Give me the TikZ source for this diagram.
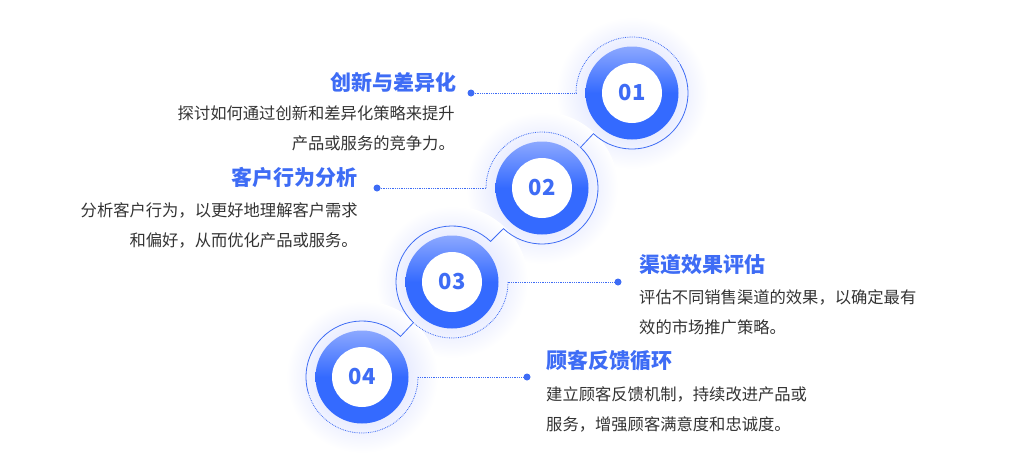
\documentclass[tikz,border=0pt]{standalone}
\usepackage{fontspec}
\setmainfont{Noto Sans CJK SC}
\usepackage{tikz}
\usetikzlibrary{calc}
\definecolor{mainblue}{RGB}{62,108,245}
\definecolor{lightblue}{RGB}{140,168,255}
\definecolor{deepblue}{RGB}{52,106,255}
\definecolor{glowblue}{RGB}{200,209,255}
\definecolor{textgray}{RGB}{51,51,51}

\begin{document}
\begin{tikzpicture}[x=1pt, y=1pt,
	disk/.style={circle, minimum size=93pt, inner sep=0pt, top color=lightblue, bottom color=deepblue, middle color=deepblue},
	hole/.style={circle, minimum size=60pt, inner sep=0pt, fill=white, text=mainblue, font=\fontsize{22}{26}\selectfont\bfseries},
	spot/.style={circle, minimum size=7pt, inner sep=0pt, fill=mainblue},
	title/.style={inner sep=0pt, text=mainblue, font=\fontsize{21}{25}\selectfont\bfseries},
	desc/.style={inner sep=0pt, text=textgray, font=\fontsize{16.3}{30}\selectfont},
	wire/.style={draw=mainblue, line width=0.8pt},
	dots/.style={wire, densely dotted}]
		\useasboundingbox (0,0) rectangle (1029,-461);
		\path (632,-93) coordinate (c1)
		(542,-188) coordinate (c2)
		(452,-282) coordinate (c3)
		(362,-377) coordinate (c4);

		\foreach \i in {1,...,4}
			\shade[inner color=glowblue, outer color=white] (c\i) circle (76pt);

		\path (c1) ++(180:56pt) coordinate (e1)
		(c2) ++(180:56pt) coordinate (e2)
		(c3) ++(0:56pt) coordinate (e3)
		(c4) ++(0:56pt) coordinate (e4);

		\draw[dots] (e1) arc[start angle=180, end angle=30, radius=56pt]
		(e2) arc[start angle=180, end angle=46.5, radius=56pt]
		(e3) arc[start angle=360, end angle=226.5, radius=56pt]
		(e4) arc[start angle=360, end angle=197, radius=56pt];

		\draw[wire] ($(c1)+(30:56pt)$) arc[start angle=30, end angle=-133.5, radius=56pt]
		-- ($(c2)+(46.5:56pt)$) arc[start angle=46.5, end angle=-133.5, radius=56pt]
		-- ($(c3)+(46.5:56pt)$) arc[start angle=46.5, end angle=226.5, radius=56pt]
		-- ($(c4)+(46.5:56pt)$) arc[start angle=46.5, end angle=197, radius=56pt];

		\foreach \i in {1,...,4}
			\path (c\i) node[disk] (b\i) {} node[hole] (n\i) {0\i};

		\path (471,-93) node[spot] (s1) {}
		(377,-188) node[spot] (s2) {}
		(618,-282) node[spot] (s3) {}
		(527,-377) node[spot] (s4) {};

		\draw[dots] (s1) -- (e1)
		(s2) -- (e2)
		(s3) -- (e3)
		(s4) -- (e4);

		\node[title, anchor=east] (t1) at (457,-82) {创新与差异化};
		\node[desc, anchor=east, align=right] (d1) at (455,-128) {探讨如何通过创新和差异化策略来提升\\产品或服务的竞争力。};
		\node[title, anchor=east] (t2) at (358,-177) {客户行为分析};
		\node[desc, anchor=east, align=right] (d2) at (358,-225) {分析客户行为，以更好地理解客户需求\\和偏好，从而优化产品或服务。};
		\node[title, anchor=west] (t3) at (639,-265) {渠道效果评估};
		\node[desc, anchor=west, align=left] (d3) at (639,-312) {评估不同销售渠道的效果，以确定最有\\效的市场推广策略。};
		\node[title, anchor=west] (t4) at (546,-361) {顾客反馈循环};
		\node[desc, anchor=west, align=left] (d4) at (546,-409) {建立顾客反馈机制，持续改进产品或\\服务，增强顾客满意度和忠诚度。};
	\end{tikzpicture}
\end{document}
